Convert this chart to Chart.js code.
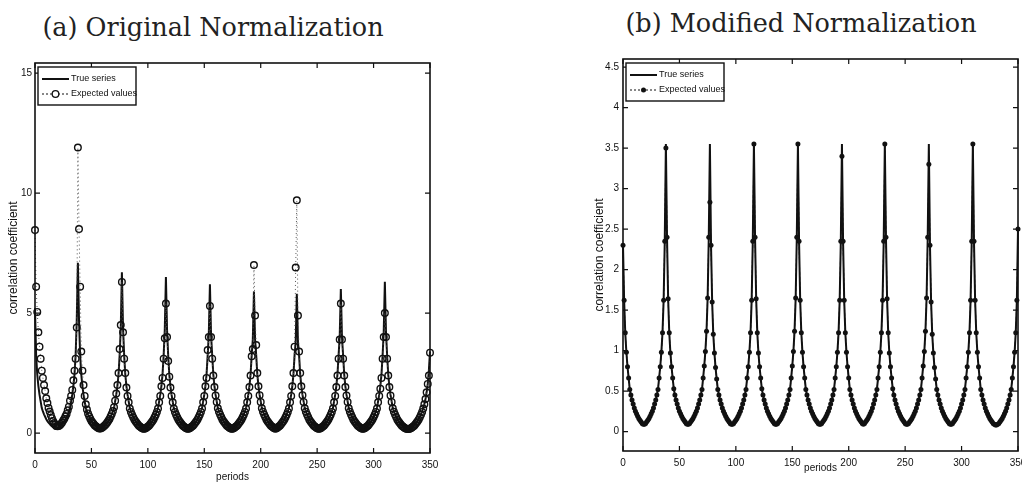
<!DOCTYPE html>
<html>
<head>
<meta charset="utf-8">
<script src="https://cdn.jsdelivr.net/npm/chart.js@4.4.0/dist/chart.umd.min.js"></script>
<style>
  body { margin: 0; background: #fff; width: 1022px; height: 484px; overflow: hidden; position: relative; }
  .panel { position: absolute; top: 0; }
  .titulo {
    position: absolute; font-family: "DejaVu Serif", serif; font-size: 25.5px; line-height: 1;
    color: #222; white-space: nowrap; transform: translateX(-50%);
  }
</style>
</head>
<body>
<div class="titulo" style="left:213px; top:15px">(a) Original Normalization</div>
<div class="titulo" style="left:801px; top:11px">(b) Modified Normalization</div>
<canvas class="panel" id="graficaA" width="511" height="484" style="left:0"></canvas>
<canvas class="panel" id="graficaB" width="442" height="484" style="left:580px"></canvas>
<script>
// eje x: periodos 0..350
const periodos = Array.from({ length: 351 }, (_, i) => i);
const ticksPeriodos = [0, 50, 100, 150, 200, 250, 300, 350];
const ticksOriginal = [0, 5, 10, 15];
const ticksModificada = [0, 0.5, 1, 1.5, 2, 2.5, 3, 3.5, 4, 4.5];
const etiquetas = ['True series', 'Expected values'];

// (a) normalizacion original - serie real
const originalReal = [
  5.20, 3.24, 2.44, 1.96, 1.60, 1.32, 1.04, 0.90, 0.78, 0.68, 0.58, 0.50, 0.44, 0.38, 0.32, 0.28, 0.24, 0.20, 0.18, 0.18, 0.20, 0.24, 0.28, 0.32, 0.38, 0.44, 0.50, 0.58, 0.68, 0.78, 0.90, 1.04, 1.32, 1.60, 1.96, 2.44, 3.24, 4.70,
  7.10, 4.70, 3.24, 2.44, 1.96, 1.60, 1.32, 1.04, 0.90, 0.78, 0.68, 0.58, 0.50, 0.44, 0.38, 0.32, 0.28, 0.24, 0.20, 0.18, 0.18, 0.20, 0.24, 0.28, 0.32, 0.38, 0.44, 0.50, 0.58, 0.68, 0.78, 0.90, 1.04, 1.32, 1.60, 1.96, 2.44, 3.24, 4.40,
  6.70, 4.40, 3.24, 2.44, 1.96, 1.60, 1.32, 1.04, 0.90, 0.78, 0.68, 0.58, 0.50, 0.44, 0.38, 0.32, 0.28, 0.24, 0.20, 0.18, 0.18, 0.20, 0.24, 0.28, 0.32, 0.38, 0.44, 0.50, 0.58, 0.68, 0.78, 0.90, 1.04, 1.32, 1.60, 1.96, 2.44, 3.24, 4.30,
  6.50, 4.30, 3.24, 2.44, 1.96, 1.60, 1.32, 1.04, 0.90, 0.78, 0.68, 0.58, 0.50, 0.44, 0.38, 0.32, 0.28, 0.24, 0.20, 0.18, 0.18, 0.20, 0.24, 0.28, 0.32, 0.38, 0.44, 0.50, 0.58, 0.68, 0.78, 0.90, 1.04, 1.32, 1.60, 1.96, 2.44, 3.24, 4.10,
  6.20, 4.10, 3.24, 2.44, 1.96, 1.60, 1.32, 1.04, 0.90, 0.78, 0.68, 0.58, 0.50, 0.44, 0.38, 0.32, 0.28, 0.24, 0.20, 0.18, 0.18, 0.20, 0.24, 0.28, 0.32, 0.38, 0.44, 0.50, 0.58, 0.68, 0.78, 0.90, 1.04, 1.32, 1.60, 1.96, 2.44, 3.24, 3.90,
  5.90, 3.90, 3.24, 2.44, 1.96, 1.60, 1.32, 1.04, 0.90, 0.78, 0.68, 0.58, 0.50, 0.44, 0.38, 0.32, 0.28, 0.24, 0.20, 0.18, 0.20, 0.24, 0.28, 0.32, 0.38, 0.44, 0.50, 0.58, 0.68, 0.78, 0.90, 1.04, 1.32, 1.60, 1.96, 2.44, 3.24, 3.80,
  5.80, 3.80, 3.24, 2.44, 1.96, 1.60, 1.32, 1.04, 0.90, 0.78, 0.68, 0.58, 0.50, 0.44, 0.38, 0.32, 0.28, 0.24, 0.20, 0.18, 0.18, 0.20, 0.24, 0.28, 0.32, 0.38, 0.44, 0.50, 0.58, 0.68, 0.78, 0.90, 1.04, 1.32, 1.60, 1.96, 2.44, 3.24, 4.00,
  6.00, 4.00, 3.24, 2.44, 1.96, 1.60, 1.32, 1.04, 0.90, 0.78, 0.68, 0.58, 0.50, 0.44, 0.38, 0.32, 0.28, 0.24, 0.20, 0.18, 0.18, 0.20, 0.24, 0.28, 0.32, 0.38, 0.44, 0.50, 0.58, 0.68, 0.78, 0.90, 1.04, 1.32, 1.60, 1.96, 2.44, 3.24, 4.20,
  6.30, 4.20, 3.24, 2.44, 1.96, 1.60, 1.32, 1.04, 0.90, 0.78, 0.68, 0.58, 0.50, 0.44, 0.38, 0.32, 0.28, 0.24, 0.20, 0.18, 0.17, 0.17, 0.18, 0.20, 0.24, 0.28, 0.32, 0.38, 0.44, 0.50, 0.58, 0.68, 0.78, 0.90, 1.04, 1.20, 1.42, 1.70, 2.05, 2.60, 3.40
];

// (a) normalizacion original - valores esperados
const originalEsperada = [
  8.46, 6.10, 5.05, 4.20, 3.60, 3.10, 2.60, 2.30, 2.00, 1.75, 1.45, 1.25, 1.05, 0.90, 0.75, 0.62, 0.50, 0.42, 0.35, 0.30, 0.28, 0.30, 0.33, 0.38, 0.44, 0.52, 0.60, 0.70, 0.80, 0.95, 1.10, 1.35, 1.55, 1.80, 2.20, 2.60, 3.10, 4.40,
  11.90, 8.50, 6.10, 3.40, 2.60, 2.00, 1.55, 1.20, 0.98, 0.82, 0.70, 0.60, 0.50, 0.44, 0.38, 0.32, 0.28, 0.24, 0.21, 0.19, 0.19, 0.21, 0.24, 0.28, 0.33, 0.38, 0.44, 0.51, 0.59, 0.69, 0.80, 0.92, 1.08, 1.35, 1.65, 2.00, 2.50, 3.50, 4.50,
  6.30, 4.20, 3.10, 2.50, 1.90, 1.55, 1.28, 1.02, 0.88, 0.76, 0.66, 0.57, 0.49, 0.43, 0.37, 0.31, 0.27, 0.23, 0.20, 0.18, 0.18, 0.20, 0.23, 0.27, 0.31, 0.37, 0.43, 0.49, 0.57, 0.66, 0.76, 0.88, 1.02, 1.28, 1.55, 1.95, 2.30, 3.10, 3.95,
  5.40, 4.00, 3.00, 2.35, 1.90, 1.55, 1.28, 1.02, 0.88, 0.76, 0.66, 0.57, 0.49, 0.43, 0.37, 0.31, 0.27, 0.23, 0.20, 0.18, 0.18, 0.20, 0.23, 0.27, 0.31, 0.37, 0.43, 0.49, 0.57, 0.66, 0.76, 0.88, 1.02, 1.28, 1.55, 1.95, 2.30, 3.46, 4.00,
  5.30, 4.00, 3.10, 2.40, 1.92, 1.57, 1.30, 1.03, 0.89, 0.77, 0.67, 0.57, 0.49, 0.43, 0.37, 0.31, 0.27, 0.23, 0.20, 0.18, 0.18, 0.20, 0.23, 0.27, 0.31, 0.37, 0.43, 0.49, 0.57, 0.66, 0.76, 0.88, 1.02, 1.28, 1.55, 1.92, 2.40, 3.20, 3.50,
  7.00, 4.90, 3.67, 2.50, 1.95, 1.58, 1.30, 1.03, 0.89, 0.77, 0.67, 0.57, 0.49, 0.43, 0.37, 0.31, 0.27, 0.23, 0.20, 0.18, 0.20, 0.23, 0.27, 0.31, 0.37, 0.43, 0.49, 0.57, 0.66, 0.76, 0.88, 1.02, 1.28, 1.55, 1.95, 2.50, 3.60, 6.90,
  9.70, 4.90, 3.40, 2.50, 1.95, 1.58, 1.30, 1.03, 0.89, 0.77, 0.67, 0.57, 0.49, 0.43, 0.37, 0.31, 0.27, 0.23, 0.20, 0.18, 0.18, 0.20, 0.23, 0.27, 0.31, 0.37, 0.43, 0.49, 0.57, 0.66, 0.76, 0.88, 1.02, 1.28, 1.55, 1.92, 2.40, 3.10, 3.90,
  5.40, 3.90, 3.10, 2.40, 1.92, 1.57, 1.30, 1.03, 0.89, 0.77, 0.67, 0.57, 0.49, 0.43, 0.37, 0.31, 0.27, 0.23, 0.20, 0.18, 0.18, 0.20, 0.23, 0.27, 0.31, 0.37, 0.43, 0.49, 0.57, 0.66, 0.76, 0.88, 1.02, 1.28, 1.55, 1.85, 2.30, 3.10, 4.00,
  5.00, 4.00, 3.10, 2.40, 1.92, 1.57, 1.30, 1.03, 0.89, 0.77, 0.67, 0.57, 0.49, 0.43, 0.37, 0.31, 0.27, 0.23, 0.20, 0.18, 0.17, 0.17, 0.18, 0.20, 0.23, 0.27, 0.31, 0.37, 0.43, 0.49, 0.57, 0.66, 0.76, 0.88, 1.02, 1.20, 1.42, 1.70, 2.05, 2.40, 3.35
];

// (b) normalizacion modificada - serie real
const modificadaReal = [
  2.30, 1.62, 1.22, 0.98, 0.80, 0.66, 0.52, 0.45, 0.39, 0.34, 0.29, 0.25, 0.22, 0.19, 0.16, 0.14, 0.12, 0.10, 0.09, 0.09, 0.10, 0.12, 0.14, 0.16, 0.19, 0.22, 0.25, 0.29, 0.34, 0.39, 0.45, 0.52, 0.66, 0.80, 0.98, 1.22, 1.62, 2.35,
  3.55, 2.40, 1.64, 1.22, 0.97, 0.80, 0.66, 0.53, 0.45, 0.39, 0.34, 0.29, 0.25, 0.22, 0.19, 0.16, 0.14, 0.12, 0.10, 0.09, 0.09, 0.10, 0.12, 0.14, 0.16, 0.19, 0.22, 0.25, 0.29, 0.34, 0.39, 0.45, 0.52, 0.66, 0.81, 0.99, 1.24, 1.65, 2.40,
  3.55, 2.30, 1.60, 1.20, 0.97, 0.79, 0.65, 0.52, 0.45, 0.39, 0.34, 0.29, 0.25, 0.22, 0.19, 0.16, 0.14, 0.12, 0.10, 0.09, 0.09, 0.10, 0.12, 0.14, 0.16, 0.19, 0.22, 0.25, 0.29, 0.34, 0.39, 0.45, 0.52, 0.66, 0.80, 0.98, 1.22, 1.62, 2.35,
  3.55, 2.40, 1.64, 1.22, 0.97, 0.80, 0.66, 0.53, 0.45, 0.39, 0.34, 0.29, 0.25, 0.22, 0.19, 0.16, 0.14, 0.12, 0.10, 0.09, 0.09, 0.10, 0.12, 0.14, 0.16, 0.19, 0.22, 0.25, 0.29, 0.34, 0.39, 0.45, 0.52, 0.66, 0.81, 0.99, 1.24, 1.65, 2.40,
  3.55, 2.35, 1.62, 1.22, 0.98, 0.80, 0.66, 0.52, 0.45, 0.39, 0.34, 0.29, 0.25, 0.22, 0.19, 0.16, 0.14, 0.12, 0.10, 0.09, 0.09, 0.10, 0.12, 0.14, 0.16, 0.19, 0.22, 0.25, 0.29, 0.34, 0.39, 0.45, 0.52, 0.66, 0.80, 0.98, 1.22, 1.62, 2.35,
  3.55, 2.35, 1.62, 1.22, 0.98, 0.80, 0.66, 0.52, 0.45, 0.39, 0.34, 0.29, 0.25, 0.22, 0.19, 0.16, 0.14, 0.12, 0.10, 0.09, 0.10, 0.12, 0.14, 0.16, 0.19, 0.22, 0.25, 0.29, 0.34, 0.39, 0.45, 0.52, 0.66, 0.80, 0.98, 1.22, 1.62, 2.35,
  3.55, 2.40, 1.64, 1.22, 0.97, 0.80, 0.66, 0.53, 0.45, 0.39, 0.34, 0.29, 0.25, 0.22, 0.19, 0.16, 0.14, 0.12, 0.10, 0.09, 0.09, 0.10, 0.12, 0.14, 0.16, 0.19, 0.22, 0.25, 0.29, 0.34, 0.39, 0.45, 0.52, 0.66, 0.81, 0.99, 1.24, 1.65, 2.40,
  3.55, 2.30, 1.60, 1.20, 0.97, 0.79, 0.65, 0.52, 0.45, 0.39, 0.34, 0.29, 0.25, 0.22, 0.19, 0.16, 0.14, 0.12, 0.10, 0.09, 0.09, 0.10, 0.12, 0.14, 0.16, 0.19, 0.22, 0.25, 0.29, 0.34, 0.39, 0.45, 0.52, 0.66, 0.80, 0.98, 1.22, 1.62, 2.35,
  3.55, 2.35, 1.62, 1.22, 0.98, 0.80, 0.66, 0.52, 0.45, 0.39, 0.34, 0.29, 0.25, 0.22, 0.19, 0.16, 0.14, 0.12, 0.10, 0.09, 0.08, 0.08, 0.09, 0.10, 0.12, 0.14, 0.16, 0.19, 0.22, 0.25, 0.29, 0.34, 0.39, 0.45, 0.52, 0.66, 0.80, 0.98, 1.22, 1.62, 2.50
];

// (b) normalizacion modificada - valores esperados
const modificadaEsperada = [
  2.30, 1.62, 1.22, 0.98, 0.80, 0.66, 0.52, 0.45, 0.39, 0.34, 0.29, 0.25, 0.22, 0.19, 0.16, 0.14, 0.12, 0.10, 0.09, 0.09, 0.10, 0.12, 0.14, 0.16, 0.19, 0.22, 0.25, 0.29, 0.34, 0.39, 0.45, 0.52, 0.66, 0.80, 0.98, 1.22, 1.62, 2.35,
  3.50, 2.40, 1.64, 1.22, 0.97, 0.80, 0.66, 0.53, 0.45, 0.39, 0.34, 0.29, 0.25, 0.22, 0.19, 0.16, 0.14, 0.12, 0.10, 0.09, 0.09, 0.10, 0.12, 0.14, 0.16, 0.19, 0.22, 0.25, 0.29, 0.34, 0.39, 0.45, 0.52, 0.66, 0.81, 0.99, 1.24, 1.65, 2.40,
  2.83, 2.30, 1.60, 1.20, 0.97, 0.79, 0.65, 0.52, 0.45, 0.39, 0.34, 0.29, 0.25, 0.22, 0.19, 0.16, 0.14, 0.12, 0.10, 0.09, 0.09, 0.10, 0.12, 0.14, 0.16, 0.19, 0.22, 0.25, 0.29, 0.34, 0.39, 0.45, 0.52, 0.66, 0.80, 0.98, 1.22, 1.62, 2.35,
  3.55, 2.40, 1.64, 1.22, 0.97, 0.80, 0.66, 0.53, 0.45, 0.39, 0.34, 0.29, 0.25, 0.22, 0.19, 0.16, 0.14, 0.12, 0.10, 0.09, 0.09, 0.10, 0.12, 0.14, 0.16, 0.19, 0.22, 0.25, 0.29, 0.34, 0.39, 0.45, 0.52, 0.66, 0.81, 0.99, 1.24, 1.65, 2.40,
  3.55, 2.35, 1.62, 1.22, 0.98, 0.80, 0.66, 0.52, 0.45, 0.39, 0.34, 0.29, 0.25, 0.22, 0.19, 0.16, 0.14, 0.12, 0.10, 0.09, 0.09, 0.10, 0.12, 0.14, 0.16, 0.19, 0.22, 0.25, 0.29, 0.34, 0.39, 0.45, 0.52, 0.66, 0.80, 0.98, 1.22, 1.62, 2.35,
  3.40, 2.35, 1.62, 1.22, 0.98, 0.80, 0.66, 0.52, 0.45, 0.39, 0.34, 0.29, 0.25, 0.22, 0.19, 0.16, 0.14, 0.12, 0.10, 0.09, 0.10, 0.12, 0.14, 0.16, 0.19, 0.22, 0.25, 0.29, 0.34, 0.39, 0.45, 0.52, 0.66, 0.80, 0.98, 1.22, 1.62, 2.35,
  3.55, 2.40, 1.64, 1.22, 0.97, 0.80, 0.66, 0.53, 0.45, 0.39, 0.34, 0.29, 0.25, 0.22, 0.19, 0.16, 0.14, 0.12, 0.10, 0.09, 0.09, 0.10, 0.12, 0.14, 0.16, 0.19, 0.22, 0.25, 0.29, 0.34, 0.39, 0.45, 0.52, 0.66, 0.81, 0.99, 1.24, 1.65, 2.40,
  3.30, 2.30, 1.60, 1.20, 0.97, 0.79, 0.65, 0.52, 0.45, 0.39, 0.34, 0.29, 0.25, 0.22, 0.19, 0.16, 0.14, 0.12, 0.10, 0.09, 0.09, 0.10, 0.12, 0.14, 0.16, 0.19, 0.22, 0.25, 0.29, 0.34, 0.39, 0.45, 0.52, 0.66, 0.80, 0.98, 1.22, 1.62, 2.35,
  3.55, 2.35, 1.62, 1.22, 0.98, 0.80, 0.66, 0.52, 0.45, 0.39, 0.34, 0.29, 0.25, 0.22, 0.19, 0.16, 0.14, 0.12, 0.10, 0.09, 0.08, 0.08, 0.09, 0.10, 0.12, 0.14, 0.16, 0.19, 0.22, 0.25, 0.29, 0.34, 0.39, 0.45, 0.52, 0.66, 0.80, 0.98, 1.22, 1.62, 2.50
];

const fuenteEjes = { family: '"Liberation Sans", Arial, sans-serif', size: 10 };
const fuenteLeyenda = '9px "Liberation Sans Narrow", "Liberation Sans", sans-serif';

function puntos(valores) {
  return valores.map((v, i) => ({ x: periodos[i], y: v }));
}

// caja, marcas hacia dentro en los cuatro lados y leyenda dentro del area
const marcoEjes = {
  id: 'marcoEjes',
  afterDraw(chart, args, opts) {
    const { ctx, chartArea: a } = chart;
    const ex = chart.scales.x, ey = chart.scales.y;
    ctx.save();
    ctx.strokeStyle = '#111';
    ctx.lineWidth = 1.6;
    ctx.strokeRect(a.left, a.top, a.right - a.left, a.bottom - a.top);
    ctx.lineWidth = 1.2;
    ctx.beginPath();
    ex.ticks.forEach(t => {
      const px = ex.getPixelForValue(t.value);
      ctx.moveTo(px, a.bottom); ctx.lineTo(px, a.bottom - 5);
      ctx.moveTo(px, a.top); ctx.lineTo(px, a.top + 5);
    });
    ey.ticks.forEach(t => {
      const py = ey.getPixelForValue(t.value);
      ctx.moveTo(a.left, py); ctx.lineTo(a.left + 5, py);
      ctx.moveTo(a.right, py); ctx.lineTo(a.right - 5, py);
    });
    ctx.stroke();

    const bx = a.left + 3, by = a.top + 4, bw = 98, bh = 38;
    const f1 = by + 12, f2 = by + 27;
    const ds = chart.data.datasets;
    ctx.fillStyle = '#fff';
    ctx.fillRect(bx, by, bw, bh);
    ctx.lineWidth = 1.4;
    ctx.strokeRect(bx, by, bw, bh);
    ctx.fillStyle = '#111';
    ctx.font = fuenteLeyenda;
    ctx.textBaseline = 'middle';
    ctx.lineWidth = 2;
    ctx.beginPath(); ctx.moveTo(bx + 4, f1); ctx.lineTo(bx + 31, f1); ctx.stroke();
    ctx.fillText(ds[0].label, bx + 33, f1);
    ctx.lineWidth = 1;
    ctx.setLineDash([2, 2]);
    ctx.beginPath(); ctx.moveTo(bx + 4, f2); ctx.lineTo(bx + 31, f2); ctx.stroke();
    ctx.setLineDash([]);
    ctx.beginPath();
    ctx.arc(bx + 17.5, f2, opts.radio, 0, 2 * Math.PI);
    if (opts.relleno) ctx.fill();
    else { ctx.fillStyle = '#fff'; ctx.fill(); ctx.fillStyle = '#111'; ctx.lineWidth = 1.3; ctx.stroke(); }
    ctx.fillText(ds[1].label, bx + 33, f2);
    ctx.restore();
  }
};

function generarGrafica(lienzo, real, esperada, ejes) {
  return new Chart(document.getElementById(lienzo), {
    type: 'line',
    data: {
      datasets: [{
        label: etiquetas[0],
        data: puntos(real),
        borderColor: '#111',
        borderWidth: 2,
        pointRadius: 0,
        tension: 0,
        clip: false,
        order: 1
      }, {
        label: etiquetas[1],
        data: puntos(esperada),
        borderColor: ejes.relleno ? '#111' : '#555',
        borderWidth: 1,
        borderDash: ejes.relleno ? [3, 2] : [1, 3],
        pointRadius: ejes.radio,
        pointBorderWidth: ejes.relleno ? 0 : 1.4,
        pointBorderColor: '#111',
        pointBackgroundColor: ejes.relleno ? '#111' : 'rgba(0,0,0,0)',
        tension: 0,
        clip: false,
        order: 0
      }]
    },
    options: {
      responsive: false,
      animation: false,
      events: [],
      layout: { padding: ejes.margenes },
      plugins: {
        legend: { display: false },
        tooltip: { enabled: false },
        marcoEjes: { relleno: ejes.relleno, radio: ejes.radio }
      },
      scales: {
        x: {
          type: 'linear', min: 0, max: 350,
          afterBuildTicks: s => { s.ticks = ticksPeriodos.map(v => ({ value: v })); },
          afterFit: s => { s.height = ejes.altoX; s.paddingLeft = 0; s.paddingRight = 0; },
          grid: { display: false, drawTicks: false },
          border: { display: false },
          ticks: { color: '#111', font: fuenteEjes, padding: 6, maxRotation: 0, autoSkip: false },
          title: { display: true, text: 'periods', color: '#111', font: { ...fuenteEjes, size: 10 }, padding: { top: 0, bottom: ejes.margenX } }
        },
        y: {
          type: 'linear', min: ejes.yMin, max: ejes.yMax,
          afterBuildTicks: s => { s.ticks = ejes.ticksY.map(v => ({ value: v })); },
          afterFit: s => { s.width = ejes.anchoY; s.paddingTop = 0; s.paddingBottom = 0; },
          grid: { display: false, drawTicks: false },
          border: { display: false },
          ticks: { color: '#111', font: fuenteEjes, padding: ejes.sepY, autoSkip: false, callback: v => String(v) },
          title: { display: true, text: 'correlation coefficient', color: '#111', font: { ...fuenteEjes, size: 12 }, padding: { top: ejes.margenY, bottom: 0 } }
        }
      }
    },
    plugins: [marcoEjes]
  });
}

generarGrafica('graficaA', originalReal, originalEsperada, {
  relleno: false, radio: 3.3,
  yMin: -0.83, yMax: 15.42, ticksY: ticksOriginal,
  margenes: { left: 0, right: 81, top: 63, bottom: 0 },
  anchoY: 35, altoX: 31, sepY: 3, margenY: 6, margenX: 1
});

generarGrafica('graficaB', modificadaReal, modificadaEsperada, {
  relleno: true, radio: 2.5,
  yMin: -0.24, yMax: 4.6, ticksY: ticksModificada,
  margenes: { left: 0, right: 4, top: 59, bottom: 0 },
  anchoY: 43, altoX: 33, sepY: 4, margenY: 12, margenX: 10
});
</script>
</body>
</html>
